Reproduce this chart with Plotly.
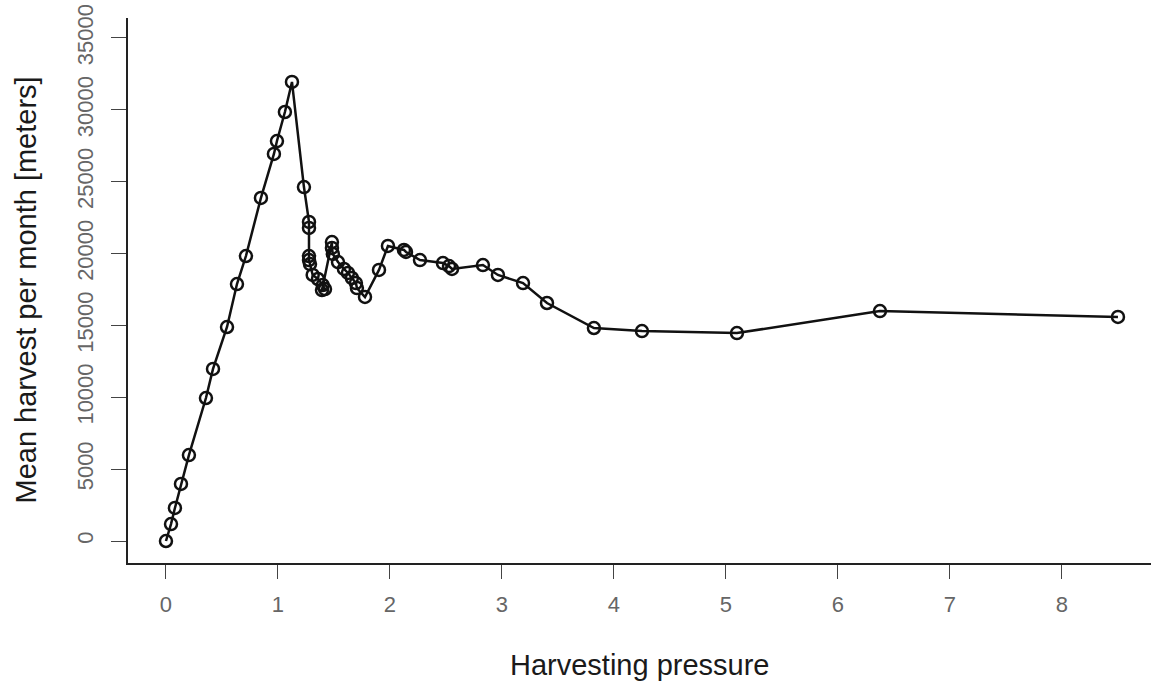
import plotly.graph_objects as go

harvest_pressure = [
    0.0, 0.045, 0.08, 0.134, 0.205, 0.357, 0.42, 0.545, 0.634, 0.714,
    0.848, 0.964, 0.991, 1.062, 1.125, 1.232, 1.277, 1.277, 1.277, 1.277,
    1.286, 1.31, 1.357, 1.40, 1.42, 1.393, 1.482, 1.482, 1.49, 1.536,
    1.589, 1.625, 1.66, 1.696, 1.705, 1.777, 1.902, 1.982, 2.125, 2.143,
    2.268, 2.473, 2.527, 2.554, 2.83, 2.964, 3.188, 3.402, 3.821, 4.25,
    5.098, 6.375, 8.5,
]
mean_harvest = [
    0, 1180, 2300, 3970, 5980, 9950, 11970, 14890, 17880, 19830,
    23870, 26930, 27830, 29850, 31940, 24630, 22200, 21780, 19830, 19550,
    19270, 18510, 18230, 17810, 17530, 17460, 20800, 20390, 19970, 19410,
    18930, 18650, 18300, 17950, 17600, 16980, 18860, 20530, 20250, 20110,
    19550, 19340, 19130, 18930, 19200, 18510, 17950, 16560, 14820, 14610,
    14470, 16000, 15590,
]

x_ticks = [0, 1, 2, 3, 4, 5, 6, 7, 8]
y_ticks = [0, 5000, 10000, 15000, 20000, 25000, 30000, 35000]

x_title = "Harvesting pressure"
y_title = "Mean harvest per month [meters]"

fig = go.Figure(
    go.Scatter(
        x=harvest_pressure,
        y=mean_harvest,
        mode="lines+markers",
        line=dict(color="#111111", width=2.5),
        marker=dict(symbol="circle-open", size=12, color="#111111",
                    line=dict(width=2.5, color="#111111")),
        showlegend=False,
    )
)

tick_font = dict(family="Liberation Sans Narrow, Liberation Sans, Arial", size=22, color="#666666")
title_font = dict(family="Liberation Sans, Arial", size=29, color="#1a1a1a")

fig.update_layout(
    width=1151,
    height=685,
    margin=dict(l=128, r=0, t=18, b=122),
    plot_bgcolor="white",
    paper_bgcolor="white",
    xaxis=dict(
        range=[-0.339, 8.795],
        tickvals=x_ticks,
        ticktext=[str(v) for v in x_ticks],
        showgrid=False,
        zeroline=False,
        showline=True,
        linecolor="#222222",
        linewidth=1.5,
        ticks="outside",
        ticklen=14,
        tickwidth=1,
        tickcolor="#444444",
        tickfont=tick_font,
        ticklabelstandoff=7,
        ticklabeloverflow="allow",
        automargin=False,
    ),
    yaxis=dict(
        range=[-1530, 36390],
        tickvals=y_ticks,
        ticktext=[str(v) for v in y_ticks],
        tickangle=-90,
        showgrid=False,
        zeroline=False,
        showline=True,
        linecolor="#222222",
        linewidth=1.5,
        ticks="outside",
        ticklen=15,
        tickwidth=1,
        tickcolor="#444444",
        tickfont=tick_font,
        ticklabelstandoff=9,
        ticklabeloverflow="allow",
        automargin=False,
    ),
    annotations=[
        dict(text=x_title, font=title_font, xref="paper", yref="paper",
             x=0.5, y=0, xanchor="center", yanchor="middle", yshift=-102,
             showarrow=False),
        dict(text=y_title, font=title_font, xref="paper", yref="paper",
             x=0, y=0.5, xanchor="center", yanchor="middle", xshift=-103,
             textangle=-90, showarrow=False),
    ],
)

fig.write_html(
    "out.html",
    config={"displayModeBar": False},
    post_script="document.body.style.margin='0';document.body.style.overflow='hidden';",
)
